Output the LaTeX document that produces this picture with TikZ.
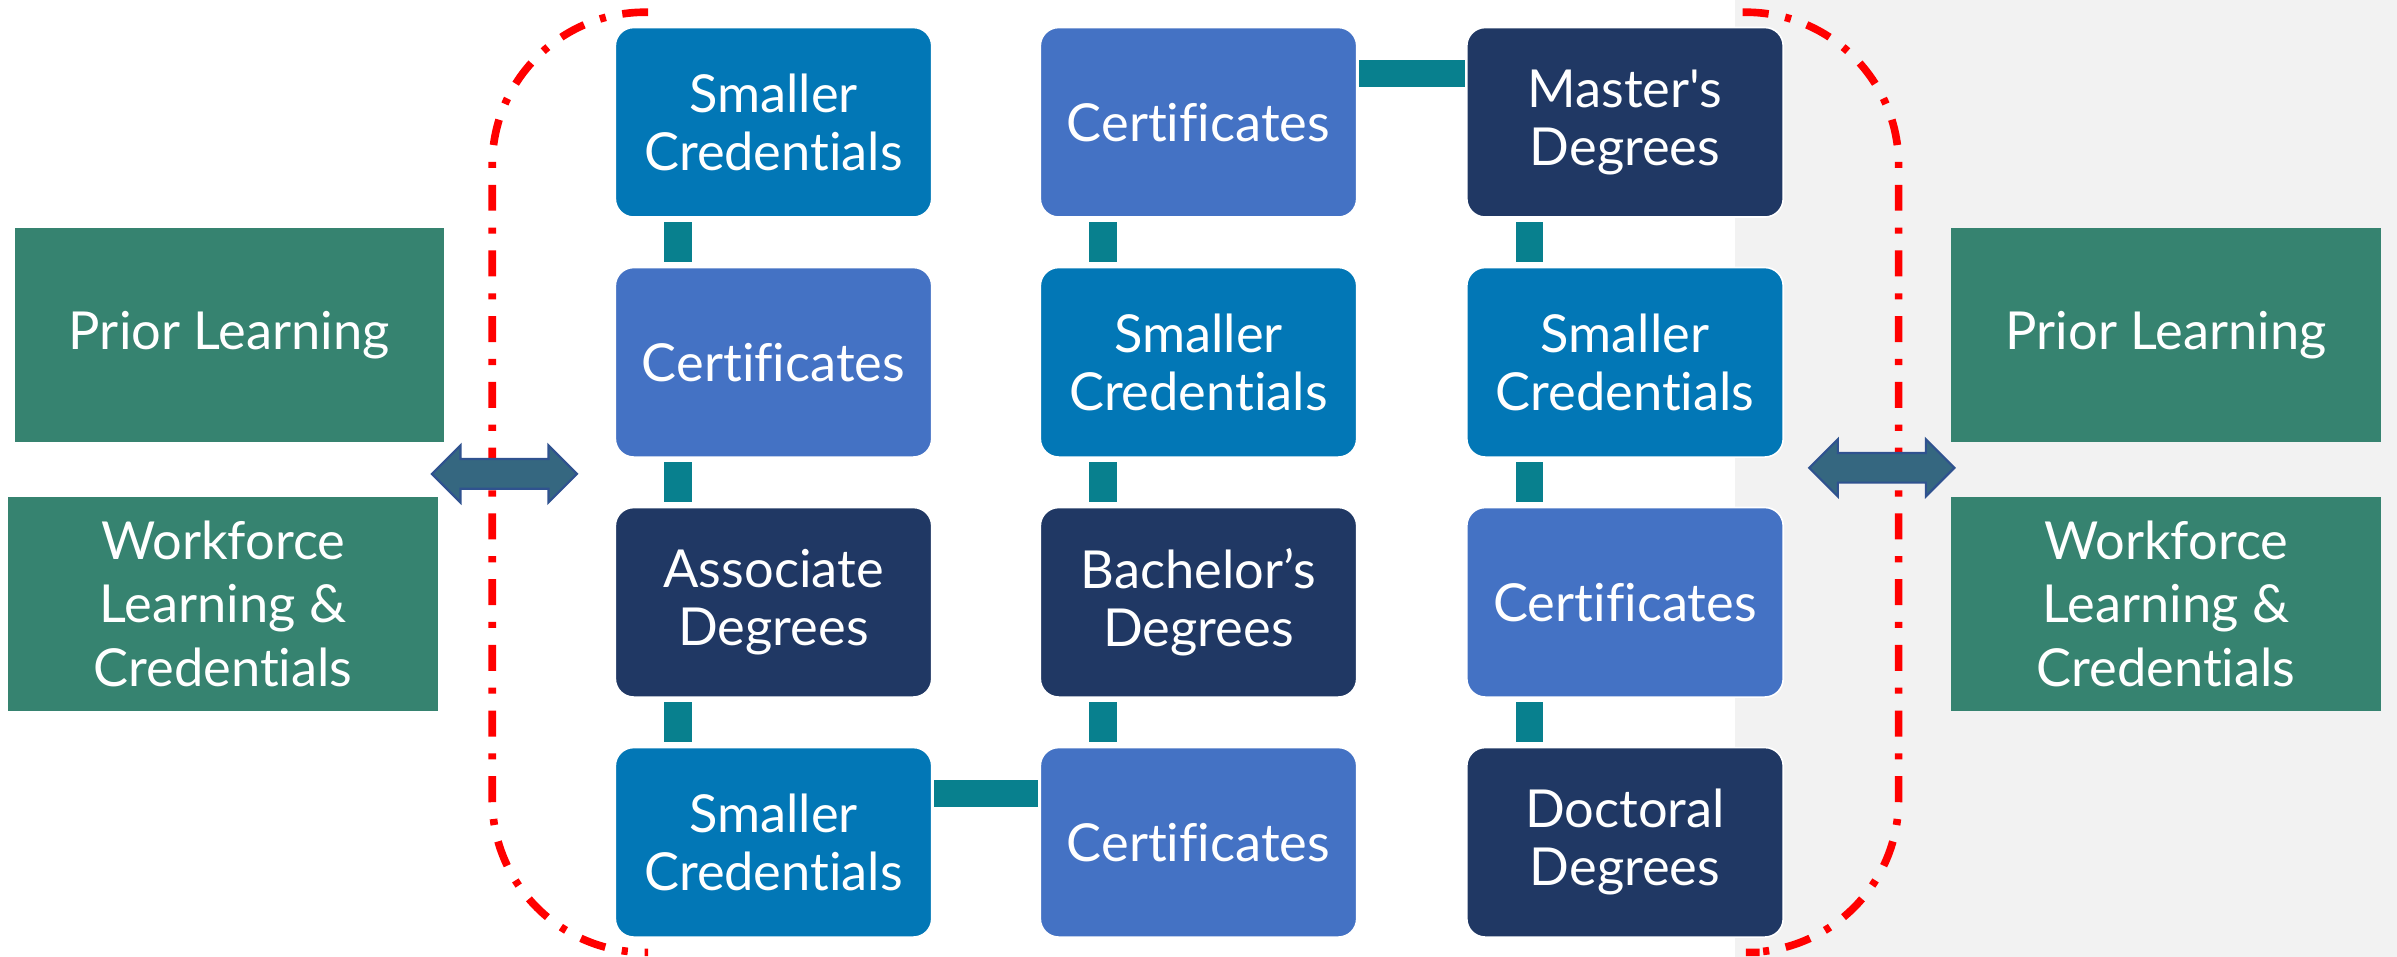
\documentclass[tikz,border=0pt]{standalone}
\usepackage{fontspec}
\setmainfont{Lato}[Ligatures={TeXOff,NoCommon}]
\usetikzlibrary{calc,shapes.arrows}

\definecolor{smallblue}{RGB}{2,119,182}
\definecolor{certblue}{RGB}{68,114,196}
\definecolor{degnavy}{RGB}{32,56,100}
\definecolor{learngreen}{RGB}{54,131,112}
\definecolor{linkteal}{RGB}{8,128,142}
\definecolor{arrowfill}{RGB}{53,103,128}
\definecolor{arrowline}{RGB}{47,82,143}
\definecolor{panelgray}{RGB}{242,242,242}

\tikzset{
	credbox/.style={rounded corners=0.24cm, draw=white, line width=0.6pt, text=white, align=center, inner sep=0pt, minimum width=4.14cm, minimum height=2.48cm, font=\fontsize{19.5}{21.7}\selectfont},
	smallbox/.style={credbox, fill=smallblue},
	certbox/.style={credbox, fill=certblue},
	degbox/.style={credbox, fill=degnavy},
	learnbox/.style={fill=learngreen, text=white, align=center, inner sep=0pt, minimum width=5.62cm, minimum height=2.8cm, font=\fontsize{19.5}{23.7}\selectfont},
	link/.style={linkteal, line width=0.36cm, shorten <=0.06cm, shorten >=0.06cm},
	twoway/.style={double arrow, fill=arrowfill, draw=arrowline, line width=0.8pt, inner xsep=0pt, inner ysep=0.18cm, minimum height=1.9cm, double arrow head extend=0.18cm},
	fence/.style={red, line width=0.1cm, rounded corners=2cm, dash pattern=on 0.34cm off 0.22cm on 0.08cm off 0.22cm}
}

\begin{document}
\begin{tikzpicture}[x=0.02cm, y=0.02cm]
		%%%%% START %%%%%
		
		\useasboundingbox (0, 0) rectangle (1568, 626);
		\fill[panelgray] (1135, 0) rectangle (1568, 626);
		
		\node[learnbox] (priorL) at (150, 407) {Prior Learning};
		\node[learnbox] (workL) at (146, 231) {Workforce\\Learning \&\\Credentials};
		\node[learnbox] (priorR) at (1417, 407) {Prior Learning};
		\node[learnbox] (workR) at (1417, 231) {Workforce\\Learning \&\\Credentials};
		
		\node[smallbox] (cred1) at (506, 546) {Smaller\\Credentials};
		\node[certbox] (cert1) at (506, 389) {Certificates};
		\node[degbox] (assoc) at (506, 232) {Associate\\Degrees};
		\node[smallbox] (cred2) at (506, 75) {Smaller\\Credentials};
		
		\node[certbox] (cert2) at (784, 546) {Certificates};
		\node[smallbox] (cred3) at (784, 389) {Smaller\\Credentials};
		\node[degbox] (bach) at (784, 232) {Bachelor’s\\Degrees};
		\node[certbox] (cert3) at (784, 75) {Certificates};
		
		\node[degbox] (mast) at (1063, 546) {Master's\\Degrees};
		\node[smallbox] (cred4) at (1063, 389) {Smaller\\Credentials};
		\node[certbox] (cert4) at (1063, 232) {Certificates};
		\node[degbox] (doct) at (1063, 75) {Doctoral\\Degrees};
		
		\draw[link] ([xshift=-1.25cm]cred1.south) -- ([xshift=-1.25cm]cert1.north);
		\draw[link] ([xshift=-1.25cm]cert1.south) -- ([xshift=-1.25cm]assoc.north);
		\draw[link] ([xshift=-1.25cm]assoc.south) -- ([xshift=-1.25cm]cred2.north);
		\draw[link] ([xshift=-1.25cm]cert2.south) -- ([xshift=-1.25cm]cred3.north);
		\draw[link] ([xshift=-1.25cm]cred3.south) -- ([xshift=-1.25cm]bach.north);
		\draw[link] ([xshift=-1.25cm]bach.south) -- ([xshift=-1.25cm]cert3.north);
		\draw[link] ([xshift=-1.25cm]mast.south) -- ([xshift=-1.25cm]cred4.north);
		\draw[link] ([xshift=-1.25cm]cred4.south) -- ([xshift=-1.25cm]cert4.north);
		\draw[link] ([xshift=-1.25cm]cert4.south) -- ([xshift=-1.25cm]doct.north);
		
		\draw[link, shorten <=0.02cm, shorten >=0.02cm] ([yshift=0.64cm]cert2.east) -- ([yshift=0.64cm]mast.west);
		\draw[link, shorten <=0.02cm, shorten >=0.02cm] ([yshift=0.64cm]cred2.east) -- ([yshift=0.64cm]cert3.west);
		
		\draw[fence] (424, 618) -- (322, 618) -- (322, 3) -- (424, 3);
		\draw[fence] (1140, 618) -- (1242, 618) -- (1242, 3) -- (1151, 3);
		
		\node[twoway] (moveL) at (330, 316) {};
		\node[twoway] (moveR) at (1231, 320) {};
		
		%%%%% END %%%%%
	\end{tikzpicture}
\end{document}
